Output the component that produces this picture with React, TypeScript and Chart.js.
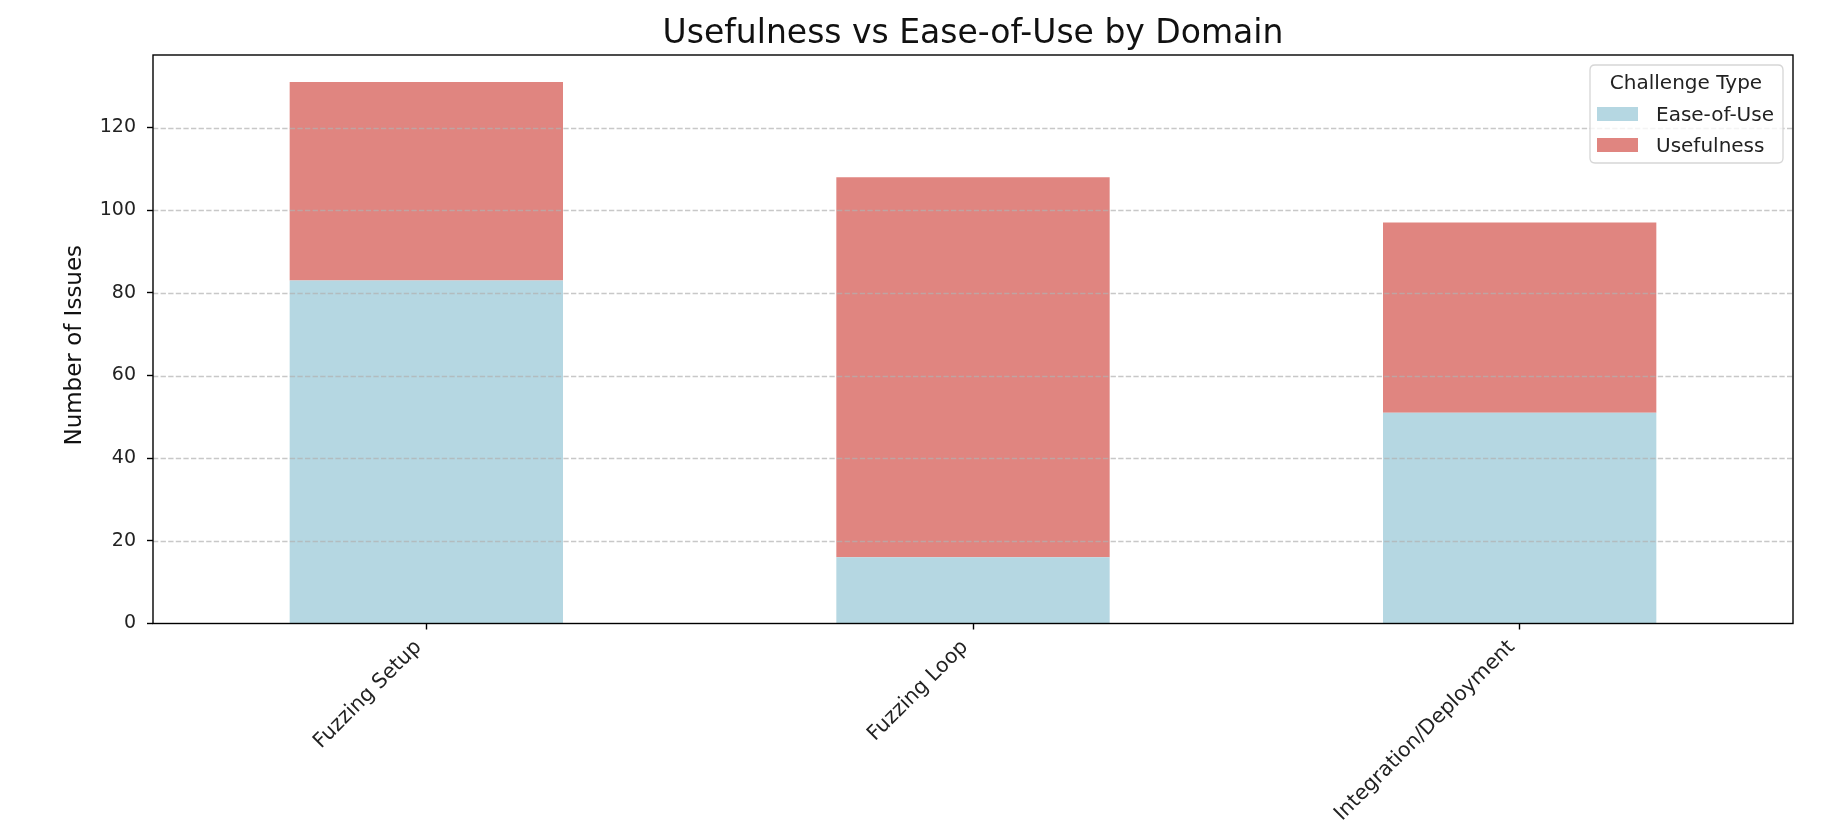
import React, { useEffect, useRef } from "react";
import { Chart, registerables } from "chart.js";

Chart.register(...registerables);

const categories = ["Fuzzing Setup", "Fuzzing Loop", "Integration/Deployment"];
const easeOfUse = [83, 16, 51];
const usefulness = [48, 92, 46];
const yTicks = [0, 20, 40, 60, 80, 100, 120];
const seriesNames = ["Ease-of-Use", "Usefulness"];
const legendTitle = "Challenge Type";
const chartTitle = "Usefulness vs Ease-of-Use by Domain";
const yAxisTitle = "Number of Issues";

const BLUE = "#b5d7e2";
const RED = "#e08580";
const FONT = "'DejaVu Sans', sans-serif";

const W = 1832;
const H = 840;
const PLOT = { left: 153, right: 1793, top: 55, bottom: 623.5 };

const decorPlugin = {
  id: "decor",
  afterDatasetsDraw(chart: any) {
    const ctx = chart.ctx as CanvasRenderingContext2D;
    const area = chart.chartArea;
    const y = chart.scales.y;
    const x = chart.scales.x;
    ctx.save();
    // dashed grid (above bars, like matplotlib)
    ctx.strokeStyle = "rgba(176,176,176,0.7)";
    ctx.lineWidth = 1.4;
    ctx.setLineDash([5.3, 2.3]);
    yTicks.forEach((t) => {
      if (t === 0) return;
      const py = Math.round(y.getPixelForValue(t)) + 0.5;
      ctx.beginPath();
      ctx.moveTo(area.left, py);
      ctx.lineTo(area.right, py);
      ctx.stroke();
    });
    ctx.setLineDash([]);
    // spines
    ctx.strokeStyle = "#000";
    ctx.lineWidth = 1.4;
    ctx.strokeRect(area.left, area.top, area.right - area.left, area.bottom - area.top);

    // x tick labels rotated 45 deg, right aligned (matplotlib style)
    ctx.fillStyle = "#222";
    const fs = 20.5;
    ctx.font = `${fs}px ${FONT}`;
    const h = fs * 1.17;
    const pad = 6 + 5.5;
    categories.forEach((c, i) => {
      const px = x.getPixelForValue(i);
      const py = area.bottom + pad + h * Math.SQRT1_2;
      ctx.save();
      ctx.translate(px, py);
      ctx.rotate(-Math.PI / 4);
      ctx.textAlign = "right";
      ctx.textBaseline = "bottom";
      ctx.fillText(c, 0, -fs * 0.05);
      ctx.restore();
    });

    // title
    ctx.fillStyle = "#111";
    ctx.font = `33px ${FONT}`;
    ctx.textAlign = "center";
    ctx.textBaseline = "middle";
    ctx.fillText(chartTitle, (area.left + area.right) / 2, 34);

    // y axis title
    ctx.save();
    ctx.translate(75, (area.top + area.bottom) / 2 + 6);
    ctx.rotate(-Math.PI / 2);
    ctx.font = `23px ${FONT}`;
    ctx.textAlign = "center";
    ctx.textBaseline = "middle";
    ctx.fillText(yAxisTitle, 0, 0);
    ctx.restore();

    // legend
    const lx = 1590, ly = 65, lw = 193, lh = 98, r = 5;
    ctx.beginPath();
    ctx.moveTo(lx + r, ly);
    ctx.lineTo(lx + lw - r, ly);
    ctx.quadraticCurveTo(lx + lw, ly, lx + lw, ly + r);
    ctx.lineTo(lx + lw, ly + lh - r);
    ctx.quadraticCurveTo(lx + lw, ly + lh, lx + lw - r, ly + lh);
    ctx.lineTo(lx + r, ly + lh);
    ctx.quadraticCurveTo(lx, ly + lh, lx, ly + lh - r);
    ctx.lineTo(lx, ly + r);
    ctx.quadraticCurveTo(lx, ly, lx + r, ly);
    ctx.closePath();
    ctx.fillStyle = "rgba(255,255,255,0.8)";
    ctx.fill();
    ctx.strokeStyle = "#d6d6d6";
    ctx.lineWidth = 1.3;
    ctx.stroke();

    ctx.fillStyle = "#222";
    ctx.font = `20px ${FONT}`;
    ctx.textAlign = "center";
    ctx.textBaseline = "middle";
    ctx.fillText(legendTitle, 1686, 84);
    const colors = [BLUE, RED];
    const rows = [114, 145];
    seriesNames.forEach((n, i) => {
      ctx.fillStyle = colors[i];
      ctx.fillRect(1597, rows[i] - 7, 41, 14);
      ctx.fillStyle = "#222";
      ctx.textAlign = "left";
      ctx.fillText(n, 1656, rows[i] + 1.5);
    });
    ctx.restore();
  },
};

export default function App() {
  const ref = useRef<HTMLCanvasElement | null>(null);
  useEffect(() => {
    if (!ref.current) return;
    const chart = new Chart(ref.current, {
      type: "bar",
      data: {
        labels: categories,
        datasets: [
          { label: seriesNames[0], data: easeOfUse, backgroundColor: BLUE, borderWidth: 0 },
          { label: seriesNames[1], data: usefulness, backgroundColor: RED, borderWidth: 0 },
        ],
      },
      options: {
        animation: false,
        responsive: false,
        devicePixelRatio: 1,
        layout: { padding: { top: PLOT.top, right: W - PLOT.right, left: 0, bottom: 0 } },
        plugins: { legend: { display: false }, title: { display: false }, tooltip: { enabled: false } },
        datasets: { bar: { categoryPercentage: 0.5, barPercentage: 1.0 } },
        scales: {
          x: {
            stacked: true,
            offset: true,
            grid: { display: true, drawOnChartArea: false, drawTicks: true, tickLength: 6, offset: false, color: "#000", tickColor: "#000", tickWidth: 1.4 },
            border: { display: false },
            ticks: { display: false },
            afterFit: (s: any) => { s.height = H - PLOT.bottom; },
          },
          y: {
            stacked: true,
            min: 0,
            max: 137.55,
            grid: { display: true, drawOnChartArea: false, drawTicks: true, tickLength: 6, color: "#000", tickColor: "#000", tickWidth: 1.4 },
            border: { display: false },
            ticks: {
              stepSize: 20,
              includeBounds: false,
              padding: 11,
              color: "#222",
              font: { family: "DejaVu Sans", size: 19 },
            },
            afterFit: (s: any) => { s.width = PLOT.left; },
          },
        },
      },
      plugins: [decorPlugin],
    });
    return () => chart.destroy();
  }, []);
  return (
    <div style={{ position: "absolute", left: 0, top: 0, width: W, height: H, background: "#fff" }}>
      <canvas ref={ref} width={W} height={H} />
    </div>
  );
}
